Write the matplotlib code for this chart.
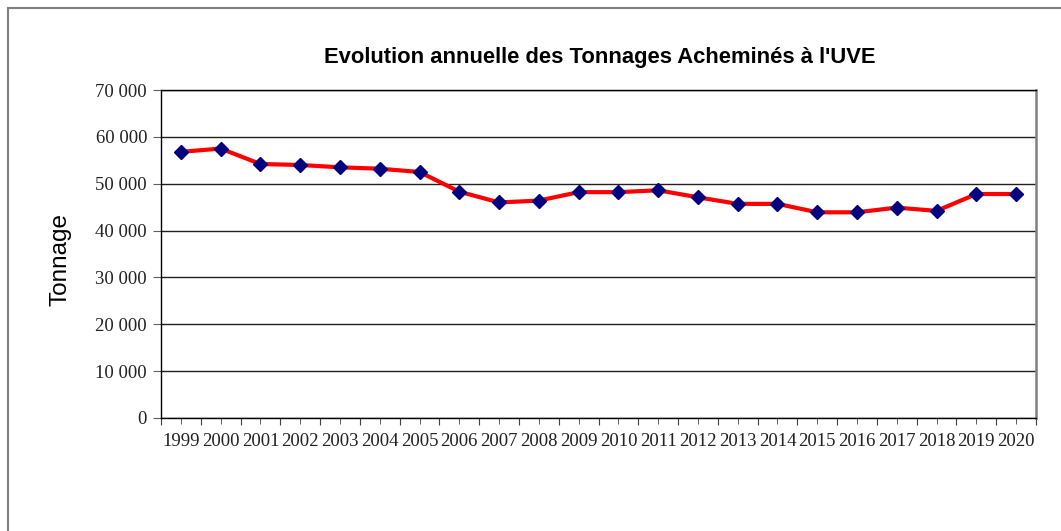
import numpy as np
import matplotlib.pyplot as plt
from matplotlib.patches import Rectangle
from matplotlib.ticker import FuncFormatter, FixedLocator

years = [str(y) for y in range(1999, 2021)]
tonnage = [56800, 57500, 54200, 54000, 53500, 53200, 52500, 48300, 46000, 46400,
           48200, 48200, 48600, 47100, 45700, 45700, 43900, 43900, 44900, 44200,
           47800, 47800]
title = "Evolution annuelle des Tonnages Acheminés à l'UVE"
ylabel = "Tonnage"


def thousands(v, pos):
    return "{:,.0f}".format(v).replace(",", " ")


def plotting():
    W, H = 1061, 531
    fig = plt.figure(figsize=(W / 100, H / 100), dpi=100)

    # outer chart frame (runs off the right and bottom of the image)
    fig.patches.append(Rectangle((8 / W, -0.1), 1.2, 1 - 8 / H + 0.1,
                                 transform=fig.transFigure, fill=False,
                                 edgecolor='#808080', linewidth=1.5))

    ax = fig.add_axes([161 / W, 1 - 418 / H, (1036 - 161) / W, (418 - 90) / H])
    x = np.arange(len(years))
    ax.plot(x, tonnage, color='red', linewidth=3.0, zorder=3)
    ax.plot(x, tonnage, linestyle='none', marker='D', markersize=7,
            color='#000080', zorder=4)

    ax.set_xlim(-0.5, len(years) - 0.5)
    ax.set_ylim(0, 70000)
    ax.set_yticks(np.arange(0, 70001, 10000))
    ax.yaxis.set_major_formatter(FuncFormatter(thousands))
    ax.grid(axis='y', color='#202020', linewidth=1.0)
    ax.set_axisbelow(True)

    # category axis: ticks on boundaries, labels at centres
    ax.xaxis.set_major_locator(FixedLocator(np.arange(-0.5, len(years), 1.0)))
    ax.xaxis.set_minor_locator(FixedLocator(x))
    ax.set_xticklabels([])
    ax.set_xticklabels(years, minor=True)
    ax.tick_params(axis='x', which='major', length=5, color='#404040')
    ax.tick_params(axis='x', which='minor', length=4, color='#404040', pad=7)
    ax.tick_params(axis='y', length=6, color='#606060', pad=4)

    serif = ['Liberation Serif', 'DejaVu Serif']
    for lab in ax.get_xticklabels(minor=True) + ax.get_yticklabels():
        lab.set_fontfamily(serif)
        lab.set_fontsize(13.5)
        lab.set_color('#222222')

    for s in ['left', 'bottom', 'top']:
        ax.spines[s].set_color('black')
        ax.spines[s].set_linewidth(1.0)
    ax.spines['right'].set_color('#808080')
    ax.spines['right'].set_linewidth(1.8)

    fig.text(600 / W, 1 - 57 / H, title, ha='center', va='center',
             fontsize=15.8, fontweight='bold', family=['Liberation Sans', 'DejaVu Sans'])
    fig.text(60 / W, 1 - 260 / H, ylabel, ha='center', va='center', rotation=90,
             fontsize=17.5, family=['Liberation Sans', 'DejaVu Sans'])

    fig.savefig('out.png', dpi=100)


if __name__ == '__main__':
    plotting()
